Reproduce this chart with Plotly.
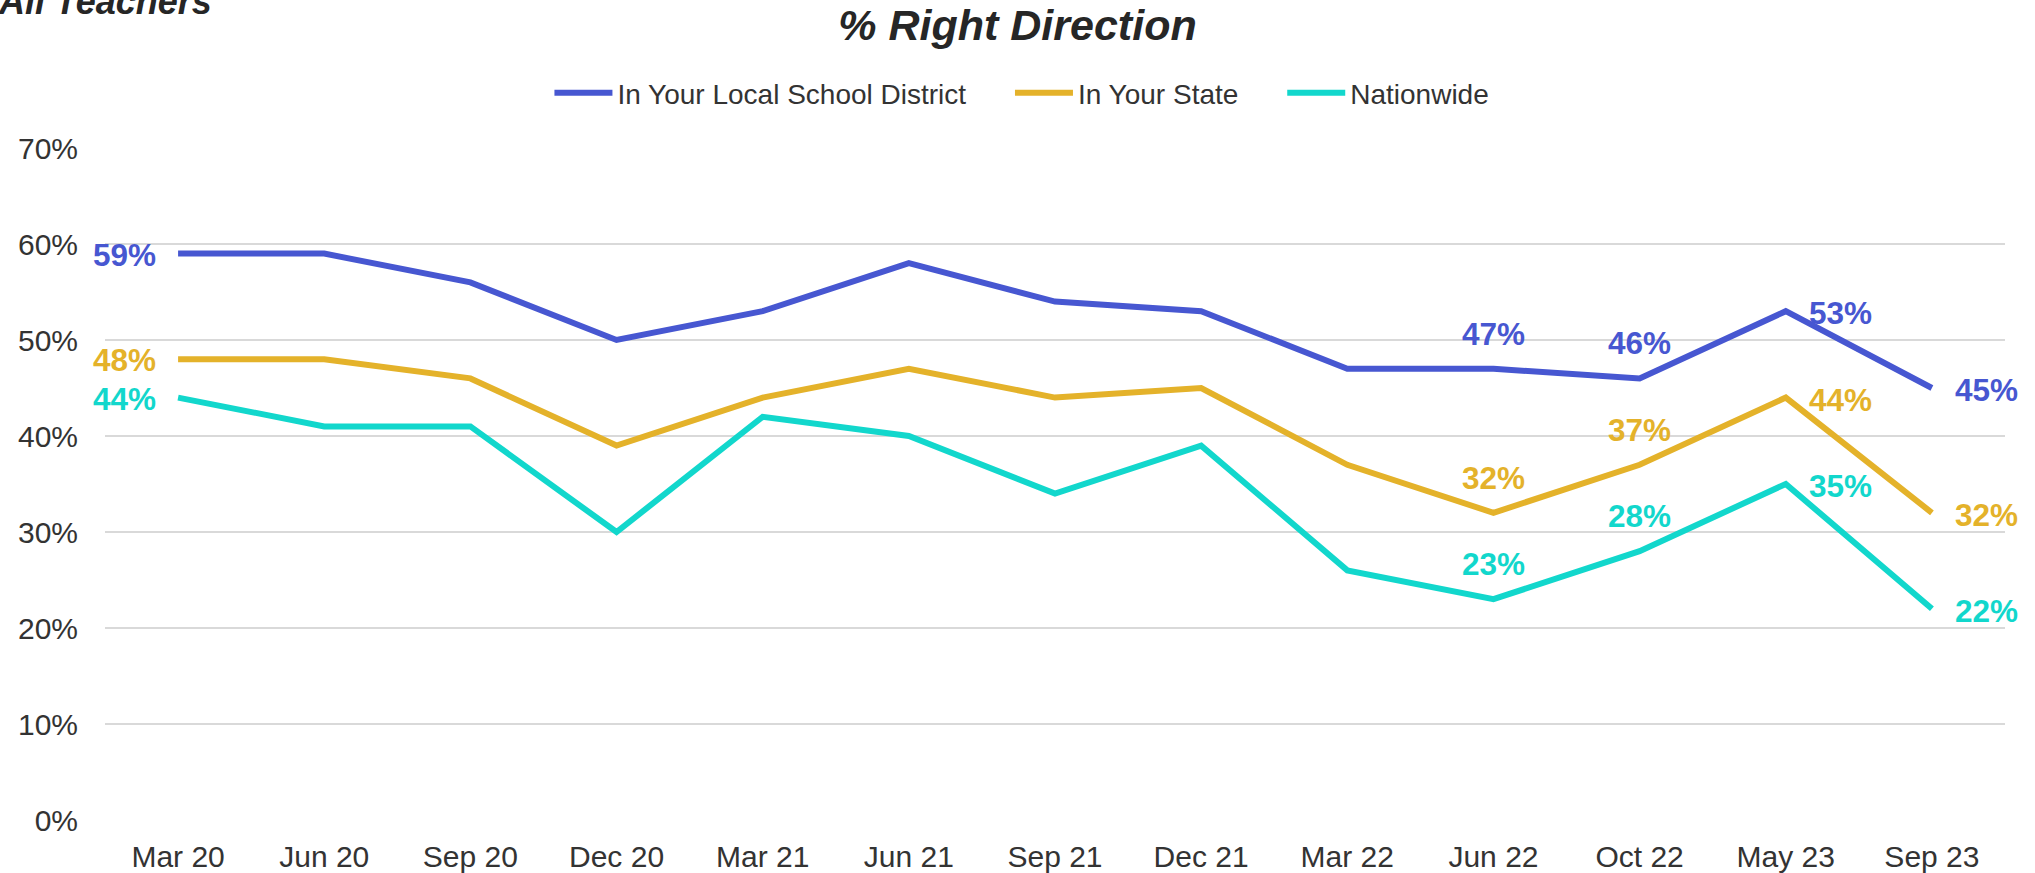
import plotly.graph_objects as go

categories = ["Mar 20", "Jun 20", "Sep 20", "Dec 20", "Mar 21", "Jun 21", "Sep 21",
              "Dec 21", "Mar 22", "Jun 22", "Oct 22", "May 23", "Sep 23"]
local_district = [59, 59, 56, 50, 53, 58, 54, 53, 47, 47, 46, 53, 45]
state = [48, 48, 46, 39, 44, 47, 44, 45, 37, 32, 37, 44, 32]
nationwide = [44, 41, 41, 30, 42, 40, 34, 39, 26, 23, 28, 35, 22]
series_names = ["In Your Local School District", "In Your State", "Nationwide"]
colors = ["#4757D1", "#E4B22A", "#12D7CC"]
y_ticks = [0, 10, 20, 30, 40, 50, 60, 70]
y_tick_labels = ["0%", "10%", "20%", "30%", "40%", "50%", "60%", "70%"]

# which points get a data label and where
label_positions = {0: "left", 9: "above", 10: "above", 11: "right", 12: "right"}

FONT = "Liberation Sans, Arial, sans-serif"
PAD = "\u00a0" * 5

fig = go.Figure()
all_series = [local_district, state, nationwide]
for k, (name, vals, col) in enumerate(zip(series_names, all_series, colors)):
    fig.add_trace(go.Scatter(
        x=categories, y=vals, mode="lines",
        name=name + (PAD if k < len(series_names) - 1 else ""),
        line=dict(color=col, width=6),
        hoverinfo="skip",
    ))

annotations = []
for vals, col in zip(all_series, colors):
    for i, pos in label_positions.items():
        a = dict(x=categories[i], y=vals[i], xref="x", yref="y",
                 text=f"<b>{vals[i]}%</b>", showarrow=False,
                 font=dict(family=FONT, size=31.5, color=col))
        if pos == "left":
            a.update(xanchor="right", yanchor="middle", xshift=-20, yshift=-1)
        elif pos == "right":
            a.update(xanchor="left", yanchor="middle", xshift=21, yshift=-2)
        else:
            a.update(xanchor="center", yanchor="middle", xshift=0, yshift=35)
        annotations.append(a)

annotations.append(dict(
    x=0, y=1, xref="paper", yref="paper", xanchor="left", yanchor="bottom",
    xshift=-109, yshift=124, showarrow=False,
    text="<b><i>All Teachers</i></b>",
    font=dict(family=FONT, size=36, color="#262626"),
))

fig.update_layout(
    width=2035, height=873,
    margin=dict(l=105, r=30, t=148, b=53, autoexpand=False),
    paper_bgcolor="white", plot_bgcolor="white",
    font=dict(family=FONT, color="#333333"),
    title=dict(text="<b><i>% Right Direction</i></b>", x=0.5, xanchor="center",
               xref="container", y=1 - 25 / 873, yref="container", yanchor="middle",
               font=dict(family=FONT, size=43, color="#262626")),
    legend=dict(orientation="h", x=0.4826, xanchor="center",
                y=1 + 55 / 672, yanchor="middle",
                font=dict(family=FONT, size=28, color="#333333"),
                itemwidth=58, traceorder="normal", bgcolor="rgba(0,0,0,0)"),
    showlegend=True,
    annotations=annotations,
)
fig.update_xaxes(type="category", range=[-0.5, 12.5], showgrid=False, zeroline=False,
                 showline=False, ticks="",
                 tickfont=dict(family=FONT, size=30, color="#333333"),
                 ticklabelstandoff=16, automargin=False)
fig.update_yaxes(range=[0, 70], tickvals=y_ticks, ticktext=y_tick_labels,
                 showgrid=True, gridcolor="#D9D9D9", gridwidth=2, zeroline=False,
                 showline=False, ticks="",
                 tickfont=dict(family=FONT, size=30, color="#333333"),
                 ticklabelstandoff=26, automargin=False)

fig.write_html("out.html", config={"displayModeBar": False},
               post_script="document.body.style.margin='0';")
